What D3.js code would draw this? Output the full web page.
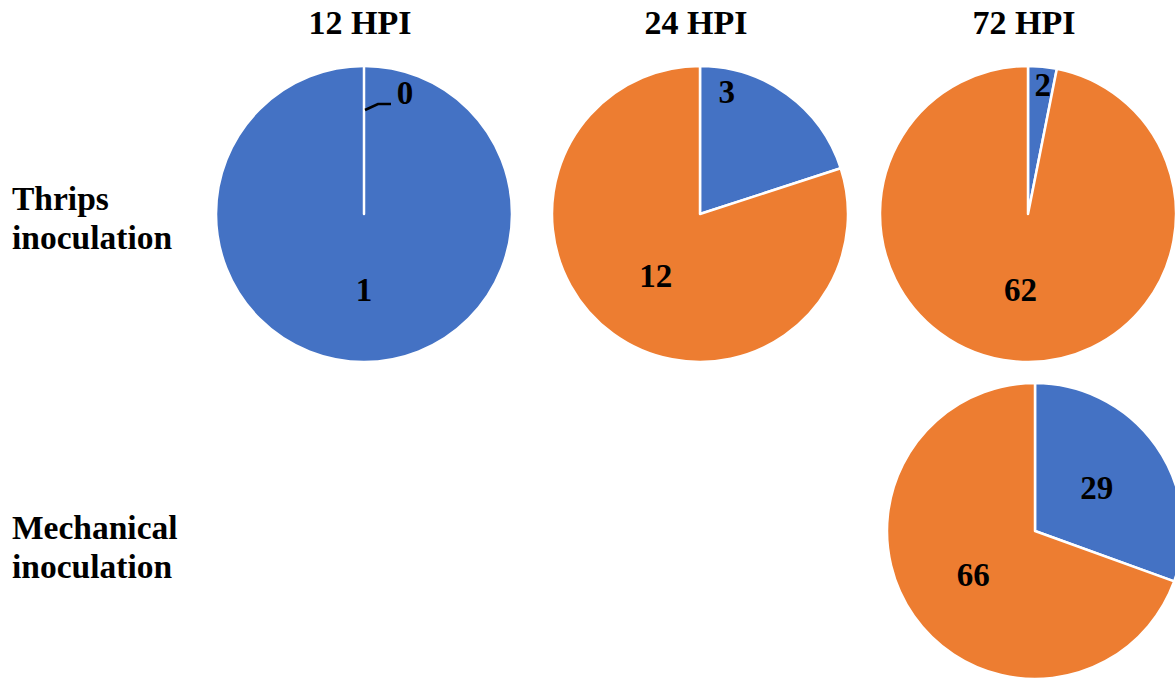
<!DOCTYPE html>
<html>
<head>
<meta charset="utf-8">
<script src="https://cdn.jsdelivr.net/npm/d3@7"></script>
<style>
  body { margin: 0; background: #fff; }
</style>
</head>
<body>
<div id="chart"></div>
<script>
// time points (columns) and inoculation methods (rows)
var timePoints = ["12 HPI", "24 HPI", "72 HPI"];
var methods = [["Thrips", "inoculation"], ["Mechanical", "inoculation"]];
var sliceColors = ["#4472C4", "#ED7D31"];

// values per pie: [blue, orange]
var thrips12 = [1, 0];
var thrips24 = [3, 12];
var thrips72 = [2, 62];
var mech72 = [29, 66];

var width = 1175, height = 679;
var radius = 148;
var fontFam = "'Liberation Serif', 'Times New Roman', Times, 'DejaVu Serif', serif";

var svg = d3.select("#chart").append("svg")
  .attr("width", width)
  .attr("height", height)
  .style("font-family", fontFam)
  .style("font-weight", "bold");

var colX = d3.scaleOrdinal().domain(timePoints).range([364, 700, 1028]);
var rowY = d3.scaleOrdinal().domain([0, 1]).range([214, 531]);

// column titles
svg.selectAll("text.colTitle")
  .data(timePoints).enter()
  .append("text")
    .attr("class", "colTitle")
    .attr("x", function(d){ return colX(d) - 4; })
    .attr("y", 34)
    .attr("text-anchor", "middle")
    .attr("font-family", fontFam)
    .attr("font-weight", "bold")
    .attr("font-size", 34)
    .text(function(d){ return d; });

// row labels
var rowText = svg.selectAll("text.rowLabel")
  .data(methods).enter()
  .append("text")
    .attr("class", "rowLabel")
    .attr("x", 12)
    .attr("y", function(d, i){ return i == 0 ? 210 : 539; })
    .attr("font-family", fontFam)
    .attr("font-weight", "bold")
    .attr("font-size", 33.5);
rowText.selectAll("tspan")
  .data(function(d){ return d; }).enter()
  .append("tspan")
    .attr("x", 12)
    .attr("dy", function(d, i){ return i == 0 ? 0 : 39; })
    .text(function(d){ return d; });

// label placement: "mid" puts it at ~half radius on the slice middle,
// otherwise angle (deg) and distance are given
var pies = [
  {values: thrips12, col: "12 HPI", row: 0, dx: 0, labels: [{mode: "mid"}, {mode: "out"}]},
  {values: thrips24, col: "24 HPI", row: 0, dx: 0, labels: [{mode: "at", angle: 12.3, r: 125}, {mode: "mid"}]},
  {values: thrips72, col: "72 HPI", row: 0, dx: 0, labels: [{mode: "at", angle: 6.5, r: 130}, {mode: "mid"}]},
  {values: mech72, col: "72 HPI", row: 1, dx: 7, labels: [{mode: "mid"}, {mode: "mid"}]}
];

var pie = d3.pie().sort(null).value(function(d){ return d; });
var arc = d3.arc().innerRadius(0).outerRadius(radius);
var labelArc = d3.arc().innerRadius(radius * 0.51).outerRadius(radius * 0.51);

pies.forEach(function(p){
  var g = svg.append("g")
    .attr("transform", "translate(" + (colX(p.col) + p.dx) + "," + rowY(p.row) + ")");
  var arcs = pie(p.values);

  g.selectAll("path")
    .data(arcs).enter()
    .append("path")
      .attr("d", arc)
      .attr("fill", function(d, i){ return sliceColors[i]; })
      .attr("stroke", "#fff")
      .attr("stroke-width", 2.5)
      .attr("stroke-linejoin", "round");

  arcs.forEach(function(a, i){
    var lab = p.labels[i];
    var x, y;
    if(lab.mode == "mid"){
      var c = labelArc.centroid(a);
      x = c[0]; y = c[1];
    } else if(lab.mode == "at"){
      var ang = lab.angle * Math.PI / 180;
      x = lab.r * Math.sin(ang); y = -lab.r * Math.cos(ang);
    } else {
      // zero slice: label sits near the top with a leader line
      x = 41; y = -122;
      g.append("path")
        .attr("d", "M1,-104 L14,-110 L27,-110")
        .attr("fill", "none")
        .attr("stroke", "#000")
        .attr("stroke-width", 2.5);
    }
    g.append("text")
      .attr("x", x)
      .attr("y", y)
      .attr("dy", "0.35em")
      .attr("text-anchor", "middle")
      .attr("font-family", fontFam)
      .attr("font-weight", "bold")
      .attr("font-size", 33)
      .text(a.data);
  });
});
</script>
</body>
</html>
